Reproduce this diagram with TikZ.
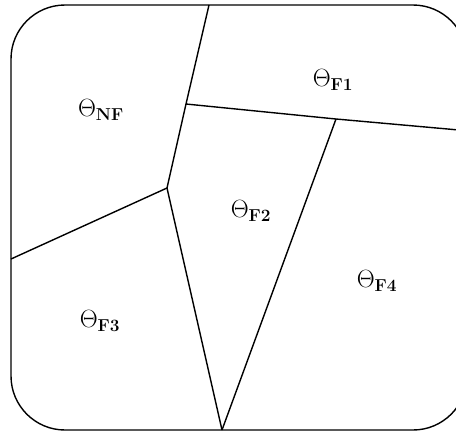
\documentclass[tikz,border=0pt]{standalone}
\begin{document}
\begin{tikzpicture}[x=1pt,y=-1pt,
  edge/.style={line width=1.4pt,line join=round},
  lbl/.style={font=\fontsize{24}{28}\selectfont,inner sep=0pt}]
\useasboundingbox (0,0) rectangle (456,432);
\clip (0,0) rectangle (456,432);
\draw[edge,rounded corners=54pt] (11,5) rectangle (467,430);
\coordinate (top) at (209,5);
\coordinate (j1) at (186,104);
\coordinate (j2) at (336,119);
\coordinate (j3) at (167,188);
\coordinate (bot) at (222,430);
\coordinate (lft) at (11,259);
\coordinate (rgt) at (470,131);
\draw[edge] (top) -- (j1) -- (j3);
\draw[edge] (j1) -- (j2) -- (rgt);
\draw[edge] (j2) -- (bot);
\draw[edge] (j3) -- (bot);
\draw[edge] (j3) -- (lft);
\node[lbl] (nf) at (101,110) {$\Theta_{\mathbf{NF}}$};
\node[lbl] (f1) at (333,80) {$\Theta_{\mathbf{F1}}$};
\node[lbl] (f2) at (251,211) {$\Theta_{\mathbf{F2}}$};
\node[lbl] (f3) at (100,321) {$\Theta_{\mathbf{F3}}$};
\node[lbl] (f4) at (377,281) {$\Theta_{\mathbf{F4}}$};
\end{tikzpicture}
\end{document}
